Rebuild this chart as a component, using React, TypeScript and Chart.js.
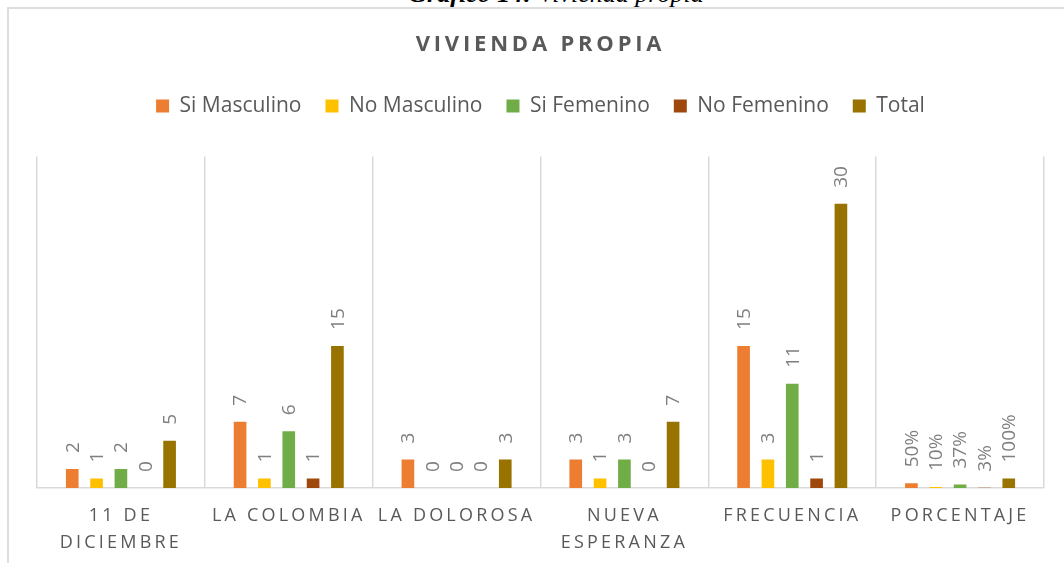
import React, { useEffect, useRef } from "react";
import { Chart, registerables } from "chart.js";

Chart.register(...registerables);

const categories: (string | string[])[] = [
  ["11 DE", "DICIEMBRE"],
  "LA COLOMBIA",
  "LA DOLOROSA",
  ["NUEVA", "ESPERANZA"],
  "FRECUENCIA",
  "PORCENTAJE",
];
const siMasculino = [2, 7, 3, 3, 15, 0.5];
const noMasculino = [1, 1, 0, 1, 3, 0.1];
const siFemenino = [2, 6, 0, 3, 11, 0.37];
const noFemenino = [0, 1, 0, 0, 1, 0.03];
const total = [5, 15, 3, 7, 30, 1];
const percentCategory = "PORCENTAJE";

const seriesNames = ["Si Masculino", "No Masculino", "Si Femenino", "No Femenino", "Total"];
const seriesColors = ["#ED7D31", "#FFC000", "#70AD47", "#9E480E", "#997300"];
const seriesValues = [siMasculino, noMasculino, siFemenino, noFemenino, total];

const FONT = "'Open Sans', 'DejaVu Sans', sans-serif";

const letterSpacingPlugin = {
  id: "letterSpacingPatch",
  beforeDraw(chart: any) {
    const patch = (obj: any, method: string, spacing: string) => {
      if (!obj || obj["__ls_" + method]) return;
      const orig = obj[method];
      obj[method] = function (...args: any[]) {
        const c = this.ctx;
        c.save();
        c.letterSpacing = spacing;
        orig.apply(this, args);
        c.restore();
      };
      obj["__ls_" + method] = true;
    };
    patch(chart.scales.x, "drawLabels", "3.2px");
    patch(chart.titleBlock, "draw", "3.8px");
  },
};

const legendSpacePlugin = {
  id: "legendSpace",
  afterInit(chart: any) {
    const legend = chart.legend;
    if (!legend) return;
    const origFit = legend.fit;
    legend.fit = function () {
      origFit.call(this);
      this.height += 30;
    };
  },
};

const dataLabelPlugin = {
  id: "rotatedDataLabels",
  afterDatasetsDraw(chart: any) {
    const ctx = chart.ctx;
    const labels = chart.data.labels;
    chart.data.datasets.forEach((ds: any, di: number) => {
      const meta = chart.getDatasetMeta(di);
      meta.data.forEach((bar: any, i: number) => {
        const v = ds.data[i] as number;
        const isPct = labels[i] === percentCategory;
        const text = isPct ? Math.round(v * 100) + "%" : String(v);
        ctx.save();
        ctx.translate(bar.x, bar.y - 16);
        ctx.rotate(-Math.PI / 2);
        ctx.font = `19px ${FONT}`;
        ctx.fillStyle = "#7F7F7F";
        ctx.textAlign = "left";
        ctx.textBaseline = "middle";
        ctx.fillText(text, 0, 1);
        ctx.restore();
      });
    });
  },
};

export default function App() {
  const canvasRef = useRef<HTMLCanvasElement | null>(null);

  useEffect(() => {
    if (!canvasRef.current) return;
    const chart = new Chart(canvasRef.current, {
      type: "bar",
      data: {
        labels: categories,
        datasets: seriesNames.map((name, i) => ({
          label: name,
          data: seriesValues[i],
          backgroundColor: seriesColors[i],
          borderWidth: 0,
          categoryPercentage: 0.725,
          barPercentage: 0.52,
        })),
      },
      options: {
        animation: false,
        responsive: false,
        maintainAspectRatio: false,
        layout: { padding: { top: 0, left: 37, right: 20, bottom: -7 } },
        plugins: {
          title: {
            display: true,
            text: "VIVIENDA PROPIA",
            color: "#595959",
            font: { family: FONT, size: 22, weight: "bold", lineHeight: 1.2 },
            padding: { top: 32, bottom: 13 },
          },
          legend: {
            display: true,
            position: "top",
            labels: {
              color: "#595959",
              font: { family: FONT, size: 21 },
              boxWidth: 13,
              boxHeight: 13,
              padding: 24,
            },
          },
          tooltip: { enabled: false },
        },
        scales: {
          x: {
            grid: {
              display: true,
              color: "#D9D9D9",
              lineWidth: 1.5,
              drawTicks: false,
              offset: true,
            },
            border: { display: true, color: "#D9D9D9", width: 1.5 },
            ticks: {
              color: "#595959",
              font: { family: FONT, size: 18, lineHeight: 27 / 18 },
              padding: 14,
              autoSkip: false,
              maxRotation: 0,
              minRotation: 0,
            },
          },
          y: {
            display: false,
            min: 0,
            max: 35,
          },
        },
      },
      plugins: [letterSpacingPlugin, legendSpacePlugin, dataLabelPlugin],
    });
    return () => chart.destroy();
  }, []);

  return (
    <div
      style={{
        position: "fixed",
        left: 0,
        top: 0,
        width: 1064,
        height: 563,
        overflow: "hidden",
        background: "#fff",
      }}
    >
      <div
        style={{
          position: "absolute",
          left: 0,
          width: 1112,
          top: -21,
          lineHeight: "30px",
          fontFamily: "'Liberation Serif', 'Times New Roman', serif",
          fontStyle: "italic",
          fontSize: 26,
          textAlign: "center",
          color: "#000",
          whiteSpace: "nowrap",
        }}
      >
        <b>Gráfico 14:</b> Vivienda propia
      </div>
      <div
        style={{
          position: "absolute",
          left: 7,
          top: 7,
          width: 1100,
          height: 600,
          border: "2px solid #DEDEDE",
        }}
      />
      <canvas
        ref={canvasRef}
        width={1064}
        height={563}
        style={{ position: "absolute", left: 0, top: 0, width: 1064, height: 563 }}
      />
    </div>
  );
}
